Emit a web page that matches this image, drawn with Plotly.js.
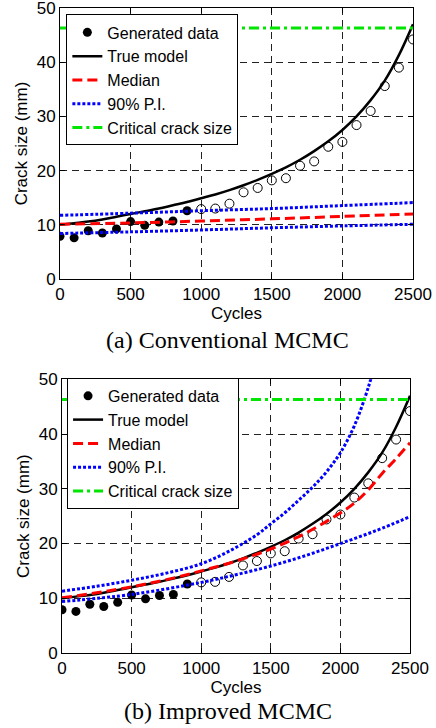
<!DOCTYPE html>
<html>
<head>
<meta charset="utf-8">
<script src="https://cdn.plot.ly/plotly-3.0.1.min.js"></script>
<style>html,body{margin:0;padding:0;background:#fff;}#chart{width:436px;height:728px;}</style>
</head>
<body>
<div id="chart"></div>
<script>
// Measured (generated) data
const dataCyclesFilled = [0,100,200,300,400,500,600,700,800,900];
const dataCrackFilled = [7.9,7.6,8.9,8.5,9.25,10.6,9.9,10.5,10.7,12.6];
const dataCyclesOpen = [1000,1100,1200,1300,1400,1500,1600,1700,1800,1900,2000,2100,2200,2300,2400,2500];
const dataCrackOpen = [12.9,13.0,13.9,16.0,16.8,18.2,18.6,20.9,21.7,24.4,25.3,28.4,31.0,35.6,39.0,44.2];

// True model
const trueCycles = [0,100,200,300,400,500,600,700,800,900,1000,1100,1200,1300,1400,1500,1600,1700,1800,1900,2000,2100,2200,2300,2400,2500];
const trueCrack = [10.0,10.3,10.6,11.0,11.5,12.0,12.5,13.0,13.6,14.2,14.9,15.6,16.4,17.3,18.3,19.4,20.6,22.0,23.6,25.4,27.5,30.0,33.0,36.6,41.3,47.0];

// (a) Conventional MCMC
const convCycles = [0,500,1000,1500,2000,2500];
const convMedian = [10.1,10.35,10.7,11.1,11.55,12.0];
const convUpper = [11.75,12.15,12.6,13.0,13.55,14.1];
const convLower = [8.4,8.7,9.05,9.45,9.8,10.1];

// (b) Improved MCMC
const impMedCycles = [0,250,500,750,1000,1250,1500,1750,2000,2100,2200,2300,2400,2500];
const impMedian = [10.1,11.0,12.1,13.4,15.0,16.8,19.0,21.9,25.6,27.4,29.8,32.8,35.5,38.4];
const impUpCycles = [0,250,500,750,1000,1200,1400,1500,1600,1700,1800,1900,2000,2100,2200,2250];
const impUpper = [11.3,12.2,13.3,14.6,16.3,18.6,21.6,23.6,25.6,27.9,30.3,33.1,36.6,41.5,48.5,53.0];
const impLowCycles = [0,500,1000,1250,1500,1750,2000,2250,2500];
const impLower = [9.4,10.7,12.9,14.3,15.9,17.8,20.0,22.3,24.9];

// Critical crack size
const critCycles = [0,2500];
const critCrack = [46.3,46.3];

const seriesNames = ['Generated data','True model','Median','90% P.I.','Critical crack size'];
const captions = ['(a) Conventional MCMC','(b) Improved MCMC'];

function panel(xa, ya, leg, median, medX, upper, upX, lower, lowX){
  return [
    {x: dataCyclesFilled, y: dataCrackFilled, xaxis: xa, yaxis: ya, legend: leg, name: seriesNames[0], mode:'markers', type:'scatter',
     marker:{symbol:'circle', size:9, color:'#000'}},
    {x: dataCyclesOpen, y: dataCrackOpen, xaxis: xa, yaxis: ya, legend: leg, showlegend:false, mode:'markers', type:'scatter',
     marker:{symbol:'circle-open', size:9, color:'#000', line:{width:1, color:'#000'}}},
    {x: trueCycles, y: trueCrack, xaxis: xa, yaxis: ya, legend: leg, name: seriesNames[1], mode:'lines', type:'scatter',
     line:{color:'#000', width:2.5, shape:'spline'}},
    {x: medX, y: median, xaxis: xa, yaxis: ya, legend: leg, name: seriesNames[2], mode:'lines', type:'scatter',
     line:{color:'#ff0000', width:3, dash:'10px,5px', shape:'spline'}},
    {x: upX, y: upper, xaxis: xa, yaxis: ya, legend: leg, name: seriesNames[3], mode:'lines', type:'scatter',
     line:{color:'#0000ff', width:3, dash:'3px,2px', shape:'spline'}},
    {x: lowX, y: lower, xaxis: xa, yaxis: ya, legend: leg, showlegend:false, mode:'lines', type:'scatter',
     line:{color:'#0000ff', width:3, dash:'3px,2px', shape:'spline'}},
    {x: critCycles, y: critCrack, xaxis: xa, yaxis: ya, legend: leg, name: seriesNames[4], mode:'lines', type:'scatter',
     line:{color:'#00e600', width:3, dash:'10px,4px,3px,4px'}}
  ];
}

const traces = panel('x','y','legend', convMedian, convCycles, convUpper, convCycles, convLower, convCycles)
  .concat(panel('x2','y2','legend2', impMedian, impMedCycles, impUpper, impUpCycles, impLower, impLowCycles));

const font = {family:'Liberation Sans, Arial, sans-serif', size:17, color:'#000'};
const legFont = {family:'Liberation Sans, Arial, sans-serif', size:16, color:'#000'};
function xaxis(dom, anchor){
  return {domain: dom, anchor: anchor, range:[0,2500], dtick:500, tick0:0,
    showline:true, linecolor:'#000', linewidth:1, mirror:'ticks', ticks:'inside', ticklen:5, tickcolor:'#000',
    showgrid:true, gridcolor:'#222', gridwidth:1, griddash:'7px,5px', zeroline:false, ticklabeloverflow:'allow',
    tickfont: font, title:{text:'Cycles', font: font, standoff:2}};
}
function yaxis(dom, anchor){
  return {domain: dom, anchor: anchor, range:[0,50], dtick:10, tick0:0,
    showline:true, linecolor:'#000', linewidth:1, mirror:'ticks', ticks:'inside', ticklen:5, tickcolor:'#000',
    showgrid:true, gridcolor:'#222', gridwidth:1, griddash:'7px,5px', zeroline:false, ticklabeloverflow:'allow',
    tickfont: font, title:{text:'Crack size (mm)', font: font, standoff:4}};
}
const legendStyle = {bgcolor:'#fff', bordercolor:'#000', borderwidth:1, font: legFont, xanchor:'left', yanchor:'top', tracegroupgap:0};

const layout = {
  width:436, height:728,
  margin:{l:60, r:23, t:8, b:75},
  paper_bgcolor:'#fff', plot_bgcolor:'#fff',
  font: font,
  xaxis: xaxis([0,1],'y'),
  yaxis: yaxis([0.5798,1],'x'),
  xaxis2: xaxis([0.0057,0.9915],'y2'),
  yaxis2: yaxis([0,0.4243],'x2'),
  legend: Object.assign({x:0.018, y:0.99}, legendStyle),
  legend2: Object.assign({x:0.02, y:0.4265}, legendStyle),
  annotations: [
    {text: captions[0], xref:'paper', yref:'paper', x:0.4745, y:0.485, xanchor:'center', yanchor:'middle', showarrow:false,
     font:{family:'Liberation Serif, Times New Roman, serif', size:24, color:'#000'}},
    {text: captions[1], xref:'paper', yref:'paper', x:0.476, y:-0.0894, xanchor:'center', yanchor:'middle', showarrow:false,
     font:{family:'Liberation Serif, Times New Roman, serif', size:24, color:'#000'}}
  ],
  showlegend:true
};

Plotly.newPlot('chart', traces, layout, {staticPlot:true, displayModeBar:false});
</script>
</body>
</html>
